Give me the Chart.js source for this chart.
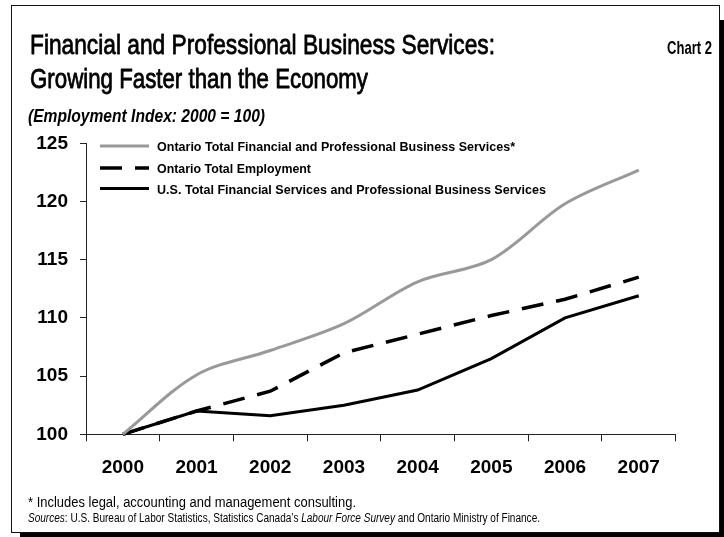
<!DOCTYPE html>
<html>
<head>
<meta charset="utf-8">
<title>Financial and Professional Business Services</title>
<script src="https://cdn.jsdelivr.net/npm/chart.js@4/dist/chart.umd.min.js"></script>
<style>
  html, body { margin: 0; padding: 0; background: #fff; }
  #wrap { position: relative; width: 724px; height: 537px; }
  canvas { display: block; }
</style>
</head>
<body>
<div id="wrap"><canvas id="chart" width="724" height="537"></canvas></div>
<script>
// Employment index, 2000 = 100
const years = [2000, 2001, 2002, 2003, 2004, 2005, 2006, 2007];
const ontarioFinProf = [100, 105.1, 107.2, 109.5, 113.1, 115.0, 119.8, 122.7];
const ontarioTotalEmp = [100, 102.0, 103.7, 107.0, 108.6, 110.2, 111.6, 113.5];
const usFinProf = [100, 102.0, 101.6, 102.5, 103.8, 106.5, 110.0, 111.9];
const yTickValues = [100, 105, 110, 115, 120, 125];

const seriesLabels = [
  'Ontario Total Financial and Professional Business Services*',
  'Ontario Total Employment',
  'U.S. Total Financial Services and Professional Business Services'
];

const titleLines = [
  'Financial and Professional Business Services:',
  'Growing Faster than the Economy'
];
const chartTag = 'Chart 2';
const unitNote = '(Employment Index: 2000 = 100)';
const footnote = '* Includes legal, accounting and management consulting.';
// [text, italic]
const sourceParts = [
  ['Sources', true],
  [': U.S. Bureau of Labor Statistics, Statistics Canada\u2019s ', false],
  ['Labour Force Survey', true],
  [' and Ontario Ministry of Finance.', false]
];

const SANS = '"Liberation Sans", Arial, Helvetica, sans-serif';

function points(values) {
  return years.map((yr, i) => ({ x: yr, y: values[i] }));
}

// Draws text squeezed horizontally to a condensed look, fitting a given width;
// an optional outline thickens the strokes for a medium weight
function condensed(ctx, text, x, y, width, align, outline) {
  const w = ctx.measureText(text).width;
  const s = width / w;
  ctx.save();
  ctx.translate(x, y);
  ctx.scale(s, 1);
  ctx.textAlign = 'left';
  const ox = align === 'right' ? -w : 0;
  ctx.fillText(text, ox, 0);
  if (outline) {
    ctx.lineWidth = outline;
    ctx.lineJoin = 'round';
    ctx.strokeText(text, ox, 0);
  }
  ctx.restore();
}

// Frame with a drop shadow, drawn underneath everything
const framePlugin = {
  id: 'frame',
  beforeDraw(chart) {
    const ctx = chart.ctx;
    ctx.save();
    ctx.fillStyle = '#fff';
    ctx.fillRect(0, 0, chart.width, chart.height);
    ctx.fillStyle = '#000';
    ctx.fillRect(720, 20, 4, 517);
    ctx.fillRect(20, 533, 704, 4);
    ctx.strokeStyle = '#111';
    ctx.lineWidth = 1;
    ctx.strokeRect(11.5, 5.5, 708, 527);
    ctx.restore();
  }
};

// Titles, legend and notes
const textPlugin = {
  id: 'texts',
  afterDraw(chart) {
    const ctx = chart.ctx;
    ctx.save();
    ctx.fillStyle = '#000';
    ctx.strokeStyle = '#000';
    ctx.textBaseline = 'alphabetic';

    ctx.font = '28px ' + SANS;
    condensed(ctx, titleLines[0], 30, 54, 465, 'left', 0.8);
    condensed(ctx, titleLines[1], 30, 88, 338, 'left', 0.8);

    ctx.font = 'bold 19px ' + SANS;
    condensed(ctx, chartTag, 712, 54, 45, 'right');

    ctx.font = 'italic bold 19px ' + SANS;
    condensed(ctx, unitNote, 28, 122, 237);

    // legend
    const rows = [146, 168, 188.5];
    const widths = [358, 154, 389];
    chart.data.datasets.forEach((ds, i) => {
      const y = rows[i];
      ctx.save();
      ctx.strokeStyle = ds.borderColor;
      ctx.lineWidth = ds.borderWidth;
      ctx.setLineDash(ds.borderDash || []);
      ctx.beginPath();
      ctx.moveTo(100, y);
      ctx.lineTo(149, y);
      ctx.stroke();
      ctx.restore();
      ctx.font = 'bold 13.5px ' + SANS;
      condensed(ctx, ds.label, 157, y + 5, widths[i]);
    });

    ctx.font = '14px ' + SANS;
    condensed(ctx, footnote, 28, 507, 328);

    // sources line, mixed italic runs squeezed by one common factor
    let total = 0;
    const runs = sourceParts.map(([t, it]) => {
      const f = (it ? 'italic ' : '') + '12px ' + SANS;
      ctx.font = f;
      const w = ctx.measureText(t).width;
      total += w;
      return { t, f, w };
    });
    const k = 512 / total;
    let x = 28;
    runs.forEach(r => {
      ctx.font = r.f;
      condensed(ctx, r.t, x, 522, r.w * k);
      x += r.w * k;
    });
    ctx.restore();
  }
};

const tickFont = { family: SANS, size: 19, weight: 'bold' };

new Chart(document.getElementById('chart'), {
  type: 'line',
  data: {
    datasets: [
      {
        label: seriesLabels[0],
        data: points(ontarioFinProf),
        borderColor: '#999999',
        borderWidth: 3,
        tension: 0.33,
        pointRadius: 0,
        clip: false
      },
      {
        label: seriesLabels[1],
        data: points(ontarioTotalEmp),
        borderColor: '#000000',
        borderWidth: 3.5,
        borderDash: [22, 13],
        tension: 0,
        pointRadius: 0,
        clip: false
      },
      {
        label: seriesLabels[2],
        data: points(usFinProf),
        borderColor: '#000000',
        borderWidth: 3,
        tension: 0,
        pointRadius: 0,
        clip: false
      }
    ]
  },
  options: {
    responsive: false,
    animation: false,
    events: [],
    layout: { padding: { left: 0, top: 143.3, right: 48.4, bottom: 0 } },
    plugins: { legend: { display: false }, tooltip: { enabled: false }, title: { display: false } },
    scales: {
      x: {
        type: 'linear',
        min: years[0] - 0.5,
        max: years[years.length - 1] + 0.5,
        afterBuildTicks(scale) {
          const t = [];
          years.forEach(yr => { t.push({ value: yr - 0.5 }); t.push({ value: yr }); });
          t.push({ value: years[years.length - 1] + 0.5 });
          scale.ticks = t;
        },
        afterFit(scale) { scale.height = 537 - 434.3; },
        ticks: {
          autoSkip: false,
          maxRotation: 0,
          color: '#000',
          font: tickFont,
          padding: 15,
          callback: v => (Number.isInteger(v) ? String(v) : '')
        },
        grid: {
          drawOnChartArea: false,
          tickLength: 7,
          tickWidth: 1,
          tickColor: ctx => (ctx.tick && Number.isInteger(ctx.tick.value) ? 'rgba(0,0,0,0)' : '#222')
        },
        border: { color: '#222', width: 1 }
      },
      y: {
        min: yTickValues[0],
        max: yTickValues[yTickValues.length - 1],
        afterBuildTicks(scale) { scale.ticks = yTickValues.map(v => ({ value: v })); },
        afterFit(scale) { scale.width = 86; },
        ticks: { color: '#000', font: tickFont, padding: 12 },
        grid: { drawOnChartArea: false, tickLength: 6, tickColor: '#222' },
        border: { color: '#222', width: 1 }
      }
    }
  },
  plugins: [framePlugin, textPlugin]
});
</script>
</body>
</html>
